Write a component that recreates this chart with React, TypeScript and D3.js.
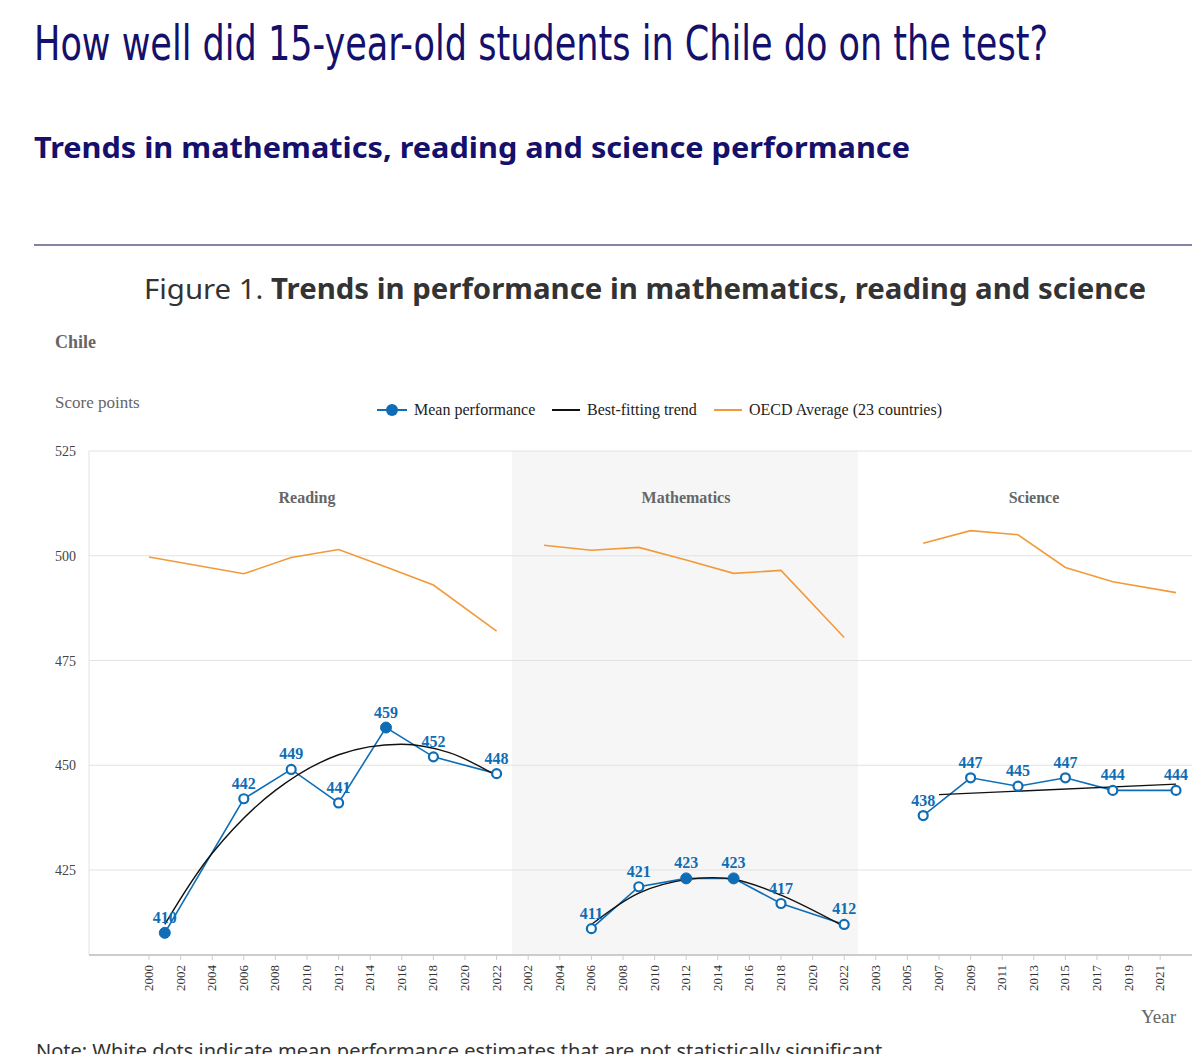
import React, { useEffect, useRef } from 'react';
import * as d3 from 'd3';

// panel data
const panels = ['Reading', 'Mathematics', 'Science'];
const panelStart = [2000, 2002, 2003];
const panelOffset = [0, 24, 46]; // virtual-year offset of each panel on the shared axis
const tickYears = [
  d3.range(2000, 2023, 2),
  d3.range(2002, 2023, 2),
  d3.range(2003, 2022, 2),
];
const meanYears = [
  [2001, 2006, 2009, 2012, 2015, 2018, 2022],
  [2006, 2009, 2012, 2015, 2018, 2022],
  [2006, 2009, 2012, 2015, 2018, 2022],
];
const meanValues = [
  [410, 442, 449, 441, 459, 452, 448],
  [411, 421, 423, 423, 417, 412],
  [438, 447, 445, 447, 444, 444],
];
const meanSignificant = [
  [true, false, false, false, true, false, false],
  [false, false, true, true, false, false],
  [false, false, false, false, false, false],
];
const oecdYears = [
  [2000, 2006, 2009, 2012, 2015, 2018, 2022],
  [2003, 2006, 2009, 2012, 2015, 2018, 2022],
  [2006, 2009, 2012, 2015, 2018, 2022],
];
const oecdValues = [
  [499.7, 495.7, 499.6, 501.5, 497.3, 493, 482],
  [502.5, 501.3, 502, 499, 495.8, 496.5, 480.5],
  [503, 506, 505, 497.2, 493.8, 491.2],
];
const trendYears = [
  [2001, 2004, 2008, 2012, 2016, 2019, 2022],
  [2006, 2009, 2012, 2015, 2018, 2022],
  [2007, 2022],
];
const trendValues = [
  [412, 429, 444, 452.5, 455, 453, 447.5],
  [412, 419.5, 422.7, 422.8, 419, 411.5],
  [443, 445.5],
];
const yTicks = [425, 450, 475, 500, 525];

const BLUE = '#0f6db5';
const ORANGE = '#f29a3a';
const NAVY = '#14106b';

export default function App() {
  const ref = useRef<SVGSVGElement>(null);

  useEffect(() => {
    const svg = d3.select(ref.current);
    svg.selectAll('*').remove();

    // page headings
    svg.append('text').attr('x', 34).attr('y', 60)
      .attr('font-family', 'Liberation Sans Narrow, DejaVu Sans Condensed, sans-serif')
      .attr('font-size', 48).attr('fill', NAVY)
      .attr('textLength', 1014).attr('lengthAdjust', 'spacingAndGlyphs')
      .text('How well did 15-year-old students in Chile do on the test?');
    svg.append('text').attr('x', 34).attr('y', 158)
      .attr('font-family', 'Noto Sans, sans-serif').attr('font-weight', 'bold')
      .attr('font-size', 29).attr('fill', NAVY)
      .attr('textLength', 876).attr('lengthAdjust', 'spacingAndGlyphs')
      .text('Trends in mathematics, reading and science performance');
    svg.append('line').attr('x1', 34).attr('x2', 1200).attr('y1', 245).attr('y2', 245)
      .attr('stroke', '#5a5a85').attr('stroke-width', 1.5);
    const fig = svg.append('text').attr('x', 144).attr('y', 299)
      .attr('font-family', 'Noto Sans, sans-serif').attr('font-size', 28).attr('fill', '#333')
      .attr('textLength', 1002).attr('lengthAdjust', 'spacingAndGlyphs');
    fig.append('tspan').text('Figure 1. ');
    fig.append('tspan').attr('font-weight', 'bold').text('Trends in performance in mathematics, reading and science');

    const serif = 'Liberation Serif, Times New Roman, serif';
    svg.append('text').attr('x', 55).attr('y', 348).attr('font-family', serif)
      .attr('font-weight', 'bold').attr('font-size', 18).attr('fill', '#666').text('Chile');
    svg.append('text').attr('x', 55).attr('y', 408).attr('font-family', serif)
      .attr('font-size', 17).attr('fill', '#666').text('Score points');

    // scales
    const x = d3.scaleLinear().domain([0, 2]).range([149, 180.6]);
    const vx = (p: number, yr: number) => x(panelOffset[p] + yr - panelStart[p]);
    const y = d3.scaleLinear().domain([425, 525]).range([870, 451]);
    const left = 89, right = 1200, bottom = 955;

    // math shading
    svg.append('rect').attr('x', 512).attr('y', 451).attr('width', 346).attr('height', bottom - 451)
      .attr('fill', '#f6f6f6');

    // grid
    svg.append('g').selectAll('line').data(yTicks).join('line')
      .attr('x1', left).attr('x2', right).attr('y1', d => y(d)).attr('y2', d => y(d))
      .attr('stroke', '#e2e2e2');
    svg.append('g').selectAll('text').data(yTicks).join('text')
      .attr('x', 76).attr('y', d => y(d) + 5).attr('text-anchor', 'end')
      .attr('font-family', serif).attr('font-size', 14).attr('fill', '#444').text(d => d);
    svg.append('line').attr('x1', left).attr('x2', left).attr('y1', 451).attr('y2', bottom).attr('stroke', '#e2e2e2');
    svg.append('line').attr('x1', left).attr('x2', right).attr('y1', bottom).attr('y2', bottom).attr('stroke', '#ccc').attr('stroke-width', 2);

    // x tick labels
    panels.forEach((_, p) => {
      const g = svg.append('g');
      tickYears[p].forEach(t => {
        const tx = vx(p, t);
        g.append('line').attr('x1', tx).attr('x2', tx).attr('y1', bottom).attr('y2', bottom + 5).attr('stroke', '#ccc');
        g.append('text').attr('transform', `translate(${tx + 4},${bottom + 10}) rotate(-90)`)
          .attr('text-anchor', 'end').attr('font-family', serif).attr('font-size', 13)
          .attr('fill', '#333').text(t);
      });
    });
    svg.append('text').attr('x', 1176).attr('y', 1023).attr('text-anchor', 'end')
      .attr('font-family', serif).attr('font-size', 19).attr('fill', '#666').text('Year');

    // panel titles
    const titleX = [307, 686, 1034];
    panels.forEach((name, p) => {
      svg.append('text').attr('x', titleX[p]).attr('y', 503).attr('text-anchor', 'middle')
        .attr('font-family', serif).attr('font-weight', 'bold').attr('font-size', 16)
        .attr('fill', '#666').text(name);
    });

    // series
    panels.forEach((_, p) => {
      const oecd = d3.line<number>().x((d, i) => vx(p, oecdYears[p][i])).y(d => y(d));
      svg.append('path').attr('d', oecd(oecdValues[p])).attr('fill', 'none')
        .attr('stroke', ORANGE).attr('stroke-width', 1.6);

      const mean = d3.line<number>().x((d, i) => vx(p, meanYears[p][i])).y(d => y(d));
      svg.append('path').attr('d', mean(meanValues[p])).attr('fill', 'none')
        .attr('stroke', BLUE).attr('stroke-width', 1.6);

      const trend = d3.line<number>().x((d, i) => vx(p, trendYears[p][i])).y(d => y(d))
        .curve(d3.curveCatmullRom);
      svg.append('path').attr('d', trend(trendValues[p])).attr('fill', 'none')
        .attr('stroke', '#111').attr('stroke-width', 1.4);

      meanValues[p].forEach((v, i) => {
        const cx = vx(p, meanYears[p][i]);
        const sig = meanSignificant[p][i];
        svg.append('circle').attr('cx', cx).attr('cy', y(v)).attr('r', sig ? 5.5 : 4.5)
          .attr('fill', sig ? BLUE : '#fff').attr('stroke', BLUE).attr('stroke-width', sig ? 1 : 2.2);
        svg.append('text').attr('x', cx).attr('y', y(v) - 10).attr('text-anchor', 'middle')
          .attr('font-family', serif).attr('font-weight', 'bold').attr('font-size', 16)
          .attr('fill', BLUE).text(v);
      });
    });

    // legend
    const lg = svg.append('g').attr('font-family', serif).attr('font-size', 16).attr('fill', '#222');
    lg.append('line').attr('x1', 377).attr('x2', 407).attr('y1', 410).attr('y2', 410).attr('stroke', BLUE).attr('stroke-width', 2);
    lg.append('circle').attr('cx', 392).attr('cy', 410).attr('r', 6).attr('fill', BLUE);
    lg.append('text').attr('x', 414).attr('y', 415).text('Mean performance');
    lg.append('line').attr('x1', 552).attr('x2', 580).attr('y1', 410).attr('y2', 410).attr('stroke', '#111').attr('stroke-width', 2);
    lg.append('text').attr('x', 587).attr('y', 415).text('Best-fitting trend');
    lg.append('line').attr('x1', 714).attr('x2', 742).attr('y1', 410).attr('y2', 410).attr('stroke', ORANGE).attr('stroke-width', 2);
    lg.append('text').attr('x', 749).attr('y', 415).text('OECD Average (23 countries)');

    // note at the bottom (cut off in the source)
    svg.append('text').attr('x', 36).attr('y', 1058).attr('font-family', 'Noto Sans, sans-serif')
      .attr('font-size', 20).attr('fill', '#333')
      .text('Note: White dots indicate mean performance estimates that are not statistically significant');
  }, []);

  return (
    <svg ref={ref} width={1200} height={1062}
      style={{ display: 'block', margin: -8, background: '#fff' }} />
  );
}
